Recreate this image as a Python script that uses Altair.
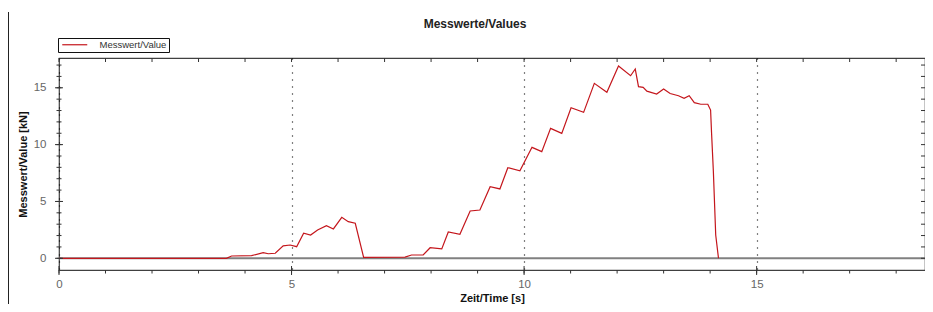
import altair as alt
import pandas as pd

# ---- data ----
time_s = [0, 3.6, 3.71, 4.14, 4.39, 4.5, 4.65, 4.82, 4.97, 5.11, 5.26, 5.41, 5.56, 5.75,
          5.9, 6.08, 6.22, 6.37, 6.55, 7.44, 7.58, 7.83, 7.98, 8.23, 8.37, 8.62, 8.84,
          9.05, 9.27, 9.48, 9.65, 9.91, 10.17, 10.38, 10.57, 10.81, 11.01, 11.28, 11.51,
          11.78, 12.03, 12.29, 12.39, 12.46, 12.56, 12.64, 12.85, 13.0, 13.14, 13.32,
          13.44, 13.55, 13.66, 13.8, 13.95, 14.01, 14.03, 14.07, 14.12, 14.18]
value_kn = [0, 0, 0.2, 0.23, 0.5, 0.4, 0.44, 1.1, 1.17, 1.02, 2.2, 2.05, 2.49, 2.87,
            2.58, 3.6, 3.22, 3.08, 0.08, 0.1, 0.29, 0.29, 0.93, 0.82, 2.31, 2.11, 4.16,
            4.25, 6.3, 6.1, 7.97, 7.7, 9.76, 9.38, 11.43, 10.99, 13.25, 12.84, 15.39,
            14.6, 16.91, 16.06, 16.65, 15.1, 15.04, 14.7, 14.45, 14.89, 14.5, 14.3,
            14.07, 14.3, 13.69, 13.55, 13.55, 13.04, 11.1, 7.6, 2.05, 0]
series_name = "Messwert/Value"

x_major = [0, 5, 10, 15]
x_minor = list(range(0, 19))
y_major = [0, 5, 10, 15]
y_minor = list(range(0, 18))

chart_title = "Messwerte/Values"
x_title = "Zeit/Time [s]"
y_title = "Messwert/Value [kN]"

FONT = "Liberation Sans"
RED = "#c4161c"
W, H = 866, 212

df = pd.DataFrame({"t": time_s, "v": value_kn, "series": [series_name] * len(time_s)})

xscale = alt.Scale(domain=[0, 18.62], nice=False, zero=False)
yscale = alt.Scale(domain=[-1.03, 17.62], nice=False, zero=False)

xaxis = alt.Axis(values=x_major, grid=True, gridDash=[1, 6], gridColor="#000", gridWidth=1.2,
                 ticks=False, domain=False, labelPadding=8, labelFontSize=11.5,
                 labelColor="#666", labelFont=FONT, labelFlush=False,
                 title=x_title, titleFont=FONT, titleFontSize=11, titleFontWeight="bold",
                 titleColor="#111", titlePadding=3)
yaxis = alt.Axis(values=y_major, grid=False, ticks=False, domain=False, labelPadding=13,
                 labelFontSize=11.5, labelColor="#666", labelFont=FONT,
                 title=y_title, titleFont=FONT, titleFontSize=11, titleFontWeight="bold",
                 titleColor="#111", titlePadding=5)

zero = alt.Chart(pd.DataFrame({"z": [0]})).mark_rule(color="#808080", strokeWidth=2).encode(
    y=alt.Y("z:Q", scale=yscale, axis=yaxis), x=alt.value(0), x2=alt.value(W))

line = alt.Chart(df).mark_line(strokeWidth=1.2).encode(
    x=alt.X("t:Q", scale=xscale, axis=xaxis),
    y=alt.Y("v:Q", scale=yscale, axis=yaxis),
    color=alt.Color("series:N", scale=alt.Scale(range=[RED]),
                    legend=alt.Legend(orient="none", legendX=-1, legendY=-20, title=None,
                                      symbolType="M-1,0H9", symbolSize=25,
                                      symbolStrokeWidth=1.2, labelFont=FONT,
                                      labelFontSize=9.5, labelColor="#333",
                                      labelOffset=30, padding=2, strokeColor="#111")),
)

xt = pd.DataFrame({"x": x_minor})
xm = pd.DataFrame({"x": x_major})
yt = pd.DataFrame({"y": y_minor})
ym = pd.DataFrame({"y": y_major})
TC = "#333"


def xrule(d, y1, y2):
    return alt.Chart(d).mark_rule(color=TC, strokeWidth=1).encode(
        x=alt.X("x:Q", scale=xscale, axis=xaxis), y=alt.value(y1), y2=alt.value(y2))


def yrule(d, x1, x2):
    return alt.Chart(d).mark_rule(color=TC, strokeWidth=1).encode(
        y=alt.Y("y:Q", scale=yscale, axis=yaxis), x=alt.value(x1), x2=alt.value(x2))


ticks = [
    xrule(xt, H, H + 3.5), xrule(xm, H - 4, H + 5), xrule(xt, 0, 4),
    yrule(yt, -2.5, 2.5), yrule(ym, -4, 4), yrule(yt, W - 4, W),
]

title = alt.Chart(pd.DataFrame({"title": [chart_title]})).mark_text(
    font=FONT, fontSize=12, fontWeight="bold", color="#222", align="center",
    baseline="middle").encode(text="title:N", x=alt.value(416), y=alt.value(-34))

border = alt.Chart(pd.DataFrame({"a": [0]})).mark_rule(color="#222", strokeWidth=1).encode(
    x=alt.value(-50.5), y=alt.value(-46), y2=alt.value(260))

chart = alt.layer(zero, line, *ticks, title, border).properties(
    width=W, height=H,
    padding={"left": 51, "top": 50, "right": 0, "bottom": 34},
    autosize=alt.AutoSizeParams(type="none"),
    background="white",
).configure_view(stroke="#404040", strokeWidth=1.2)

chart.save("out.html", embed_options={"renderer": "svg", "actions": False})
